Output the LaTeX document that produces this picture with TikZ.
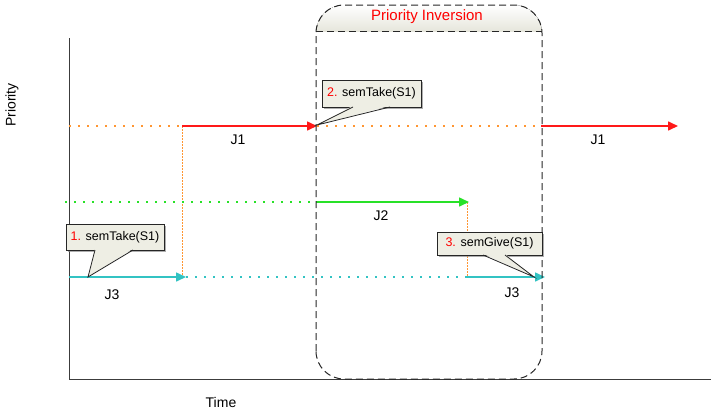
\documentclass[tikz,border=0pt]{standalone}
\usepackage{fontspec}
\setmainfont{Liberation Sans}
\usetikzlibrary{arrows.meta,shadows,calc}
\definecolor{jred}{RGB}{255,25,25}
\definecolor{jorange}{RGB}{255,150,50}
\definecolor{jgreen}{RGB}{40,225,40}
\definecolor{jcyan}{RGB}{50,195,195}
\definecolor{axisc}{RGB}{60,60,60}
\definecolor{bandc}{RGB}{230,230,220}
\definecolor{cfill}{RGB}{238,238,228}
\begin{document}
\begin{tikzpicture}[x=1pt,y=-1pt,
  axisline/.style={draw=axisc,line width=1pt},
  lbl/.style={font=\fontsize{14}{16}\selectfont,inner sep=0pt},
  solidarrow/.style={line width=1.6pt,-{Triangle[length=10pt,width=9pt]}},
  dotline/.style={line width=1.6pt,dash pattern=on 1.6pt off 7.4pt},
  vdot/.style={draw=jorange,line width=1pt,dash pattern=on 1.5pt off 1.5pt},
  invbox/.style={draw=black!85,line width=1pt,dash pattern=on 7pt off 4pt},
  cbox/.style={draw=black!85,line width=0.8pt,fill=cfill,outer sep=0pt,inner sep=0pt,
    font=\fontsize{12.5}{14}\selectfont,
    drop shadow={shadow xshift=1.5pt,shadow yshift=-1.5pt,fill=black!45,opacity=0.7}},
  cline/.style={draw=black!85,line width=0.8pt,line join=miter},
]
\useasboundingbox (0,0) rectangle (713,413);

% axes
\coordinate (ytop) at (69,38);
\coordinate (orig) at (69,379);
\coordinate (xend) at (711,379);
\draw[axisline] (ytop) -- (orig) -- (xend);
\node[lbl,rotate=90] (ylab) at (12,105) {Priority};
\node[lbl] (xlab) at (221,402) {Time};

% priority inversion band
\begin{scope}
  \clip[rounded corners=28pt] (316,379) -- (316,5) -- (542,5) -- (542,379) -- cycle;
  \fill[top color=white,bottom color=bandc] (316,5) rectangle (542,31);
\end{scope}

% level coordinates
\coordinate (j1a) at (69,126);
\coordinate (j1b) at (182,126);
\coordinate (j1c) at (317,126);
\coordinate (j1d) at (541,126);
\coordinate (j1e) at (678,126);
\coordinate (j2a) at (65,202);
\coordinate (j2b) at (316,202);
\coordinate (j2c) at (469,202);
\coordinate (j3a) at (69,277);
\coordinate (j3b) at (186,277);
\coordinate (j3c) at (467,277);
\coordinate (j3d) at (545,277);
\coordinate (v1b) at (182,277);
\coordinate (v2a) at (467,202);

% vertical orange dotted
\draw[vdot] (j1b) -- (v1b);
\draw[vdot] (v2a) -- (j3c);

% J1
\draw[dotline,draw=jorange] (j1a) -- (j1b);
\draw[dotline,draw=jorange] (j1c) -- (j1d);
\draw[solidarrow,draw=jred,fill=jred] (j1b) -- (j1c);
\draw[solidarrow,draw=jred,fill=jred] (j1d) -- (j1e);
% J2
\draw[dotline,draw=jgreen] (j2a) -- (j2b);
\draw[solidarrow,draw=jgreen,fill=jgreen] (j2b) -- (j2c);
% J3
\draw[solidarrow,draw=jcyan,fill=jcyan] (j3a) -- (j3b);
\draw[dotline,draw=jcyan] (j3b) -- (j3c);
\draw[solidarrow,draw=jcyan,fill=jcyan] (j3c) -- (j3d);

\node[lbl] (l1a) at (238,140) {J1};
\node[lbl] (l1b) at (598,140) {J1};
\node[lbl] (l2) at (381,216) {J2};
\node[lbl] (l3a) at (112,295) {J3};
\node[lbl] (l3b) at (512,293) {J3};

% priority inversion box outline
\draw[invbox,rounded corners=28pt] (316,379) -- (316,5) -- (542,5) -- (542,379) -- cycle;
\coordinate (bandl) at (316,31);
\coordinate (bandr) at (542,31);
\draw[invbox] (bandl) -- (bandr);
\node[lbl,text=red,font=\fontsize{15}{17}\selectfont] (ptitle) at (427,17) {Priority Inversion};

% callouts
\coordinate (t1) at (88,277);
\coordinate (t2) at (317,125);
\coordinate (t3) at (534,277);

\node[cbox,minimum width=98pt,minimum height=26pt] (c1) at (115,237) {\textcolor{red}{1.} semTake(S1)};
\fill[cfill] ($(c1.south)+(-20,-1.2)$) -- (t1) -- ($(c1.south)+(18,-1.2)$) -- cycle;
\draw[cline] ($(c1.south)+(-20,0)$) -- (t1) -- ($(c1.south)+(18,0)$);

\node[cbox,minimum width=99pt,minimum height=27pt] (c2) at (371.5,93.5) {\textcolor{red}{2.} semTake(S1)};
\fill[cfill] ($(c2.south)+(-18.5,-1.2)$) -- (t2) -- ($(c2.south)+(18.5,-1.2)$) -- cycle;
\draw[cline] ($(c2.south)+(-18.5,0)$) -- (t2) -- ($(c2.south)+(18.5,0)$);

\node[cbox,minimum width=105pt,minimum height=23pt] (c3) at (489.5,243.5) {\textcolor{red}{3.} semGive(S1)};
\fill[cfill] ($(c3.south)+(-6.5,-1.2)$) -- (t3) -- ($(c3.south)+(15.5,-1.2)$) -- cycle;
\draw[cline] ($(c3.south)+(-6.5,0)$) -- (t3) -- ($(c3.south)+(15.5,0)$);
\end{tikzpicture}
\end{document}
